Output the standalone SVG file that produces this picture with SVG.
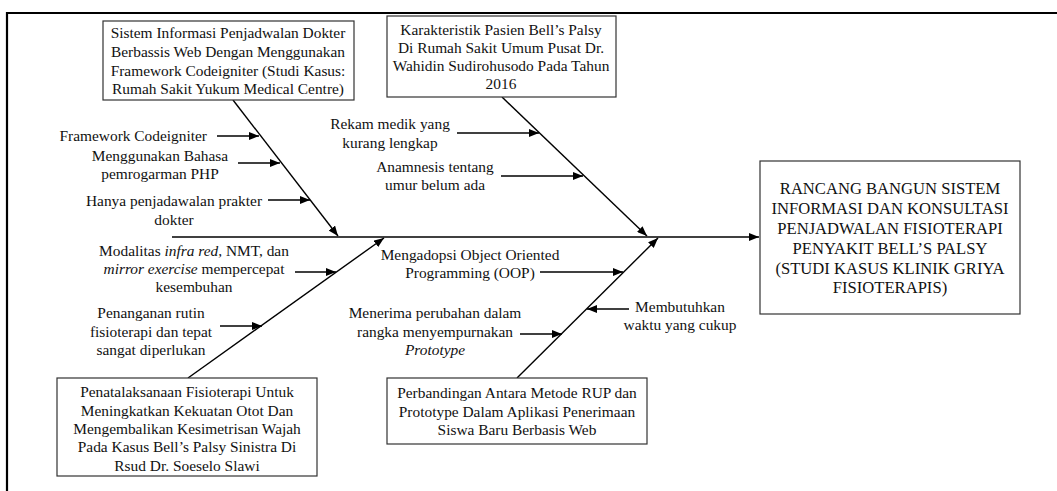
<svg xmlns="http://www.w3.org/2000/svg" width="1057" height="491" viewBox="0 0 1057 491">
  <style>
    text { font-family: "Liberation Serif", "Times New Roman", serif; font-size: 15.4px; fill: #111; }
    .c { text-anchor: middle; }
    .e { text-anchor: end; }
    .big { font-size: 16.6px; }
    .box { fill: #fff; stroke: #333; stroke-width: 1.2; }
    .bone { stroke: #000; stroke-width: 1.4; fill: none; }
    .frame { stroke: #000; stroke-width: 2.2; fill: none; }
    .it { font-style: italic; }
  </style>
  <defs>
    <marker id="ah" viewBox="0 0 10 8" markerWidth="10" markerHeight="8" refX="10" refY="4" orient="auto" markerUnits="userSpaceOnUse">
      <path d="M0,0 L10,4 L0,8 z" fill="#000"/>
    </marker>
  </defs>

  <rect width="1057" height="491" fill="#fff"/>
  <!-- page frame -->
  <path class="frame" d="M7,491 V13 H1057"/>

  <!-- connectors: spine, bones and cause arrows -->
  <g id="connectors">
    <line class="bone" x1="172" y1="237" x2="759" y2="237" marker-end="url(#ah)"/>
    <line class="bone" x1="233" y1="100" x2="338" y2="236" marker-end="url(#ah)"/>
    <line class="bone" x1="502" y1="97" x2="647" y2="236" marker-end="url(#ah)"/>
    <line class="bone" x1="188" y1="378" x2="384" y2="238" marker-end="url(#ah)"/>
    <line class="bone" x1="517" y1="378" x2="658" y2="238" marker-end="url(#ah)"/>

    <line class="bone" x1="217" y1="136" x2="259" y2="136" marker-end="url(#ah)"/>
    <line class="bone" x1="238" y1="163" x2="280" y2="163" marker-end="url(#ah)"/>
    <line class="bone" x1="268" y1="200" x2="310" y2="200" marker-end="url(#ah)"/>

    <line class="bone" x1="457" y1="133" x2="539" y2="133" marker-end="url(#ah)"/>
    <line class="bone" x1="501" y1="176" x2="583" y2="176" marker-end="url(#ah)"/>

    <line class="bone" x1="295" y1="272" x2="336" y2="272" marker-end="url(#ah)"/>
    <line class="bone" x1="220" y1="326" x2="262" y2="326" marker-end="url(#ah)"/>

    <line class="bone" x1="540" y1="272" x2="623" y2="272" marker-end="url(#ah)"/>
    <line class="bone" x1="520" y1="334" x2="562" y2="334" marker-end="url(#ah)"/>
    <line class="bone" x1="629" y1="309" x2="587" y2="309" marker-end="url(#ah)"/>
  </g>

  <!-- cause labels -->
  <g id="labels">
    <text class="e" x="207" y="141">Framework Codeigniter</text>
    <text class="c" x="160" y="161">Menggunakan Bahasa</text>
    <text class="c" x="160" y="179">pemrogarman PHP</text>
    <text class="c" x="174" y="206">Hanya penjadawalan prakter</text>
    <text class="c" x="174" y="225">dokter</text>

    <text class="c" x="390" y="129">Rekam medik yang</text>
    <text class="c" x="390" y="148">kurang lengkap</text>
    <text class="c" x="435" y="172">Anamnesis tentang</text>
    <text class="c" x="435" y="190">umur belum ada</text>

    <text class="c" x="194" y="256">Modalitas <tspan class="it">infra red,</tspan> NMT, dan</text>
    <text class="c" x="194" y="274"><tspan class="it">mirror exercise</tspan> mempercepat</text>
    <text class="c" x="194" y="292">kesembuhan</text>
    <text class="c" x="151" y="318">Penanganan rutin</text>
    <text class="c" x="151" y="337">fisioterapi dan tepat</text>
    <text class="c" x="151" y="355">sangat diperlukan</text>

    <text class="c" x="470" y="260">Mengadopsi Object Oriented</text>
    <text class="c" x="470" y="278">Programming (OOP)</text>
    <text class="c" x="435" y="318">Menerima perubahan dalam</text>
    <text class="c" x="435" y="337">rangka menyempurnakan</text>
    <text class="c it" x="435" y="355">Prototype</text>
    <text class="c" x="680" y="312">Membutuhkan</text>
    <text class="c" x="680" y="330">waktu yang cukup</text>
  </g>

  <!-- source boxes -->
  <g id="node-sistem-informasi">
    <rect class="box" x="103" y="21" width="251" height="79"/>
    <text class="c" x="228" y="38">Sistem Informasi Penjadwalan Dokter</text>
    <text class="c" x="228" y="57">Berbassis Web Dengan Menggunakan</text>
    <text class="c" x="228" y="76">Framework Codeigniter (Studi Kasus:</text>
    <text class="c" x="228" y="94">Rumah Sakit Yukum Medical Centre)</text>
  </g>

  <g id="node-karakteristik">
    <rect class="box" x="387" y="16" width="229" height="81"/>
    <text class="c" x="501" y="35">Karakteristik Pasien Bell’s Palsy</text>
    <text class="c" x="501" y="53">Di Rumah Sakit Umum Pusat Dr.</text>
    <text class="c" x="501" y="71">Wahidin Sudirohusodo Pada Tahun</text>
    <text class="c" x="501" y="89">2016</text>
  </g>

  <g id="node-penatalaksanaan">
    <rect class="box" x="57" y="378" width="260" height="98"/>
    <text class="c" x="187" y="397">Penatalaksanaan Fisioterapi Untuk</text>
    <text class="c" x="187" y="416">Meningkatkan Kekuatan Otot Dan</text>
    <text class="c" x="187" y="434">Mengembalikan Kesimetrisan Wajah</text>
    <text class="c" x="187" y="452">Pada Kasus Bell’s Palsy Sinistra Di</text>
    <text class="c" x="187" y="471">Rsud Dr. Soeselo Slawi</text>
  </g>

  <g id="node-perbandingan">
    <rect class="box" x="387" y="378" width="260" height="66"/>
    <text class="c" x="517" y="398">Perbandingan Antara Metode RUP dan</text>
    <text class="c" x="517" y="417">Prototype Dalam Aplikasi Penerimaan</text>
    <text class="c" x="517" y="435">Siswa Baru Berbasis Web</text>
  </g>

  <!-- effect box -->
  <g id="node-rancang-bangun">
    <rect class="box" x="760" y="161" width="260" height="153"/>
    <text class="c big" x="890" y="194">RANCANG BANGUN SISTEM</text>
    <text class="c big" x="890" y="214">INFORMASI DAN KONSULTASI</text>
    <text class="c big" x="890" y="234">PENJADWALAN FISIOTERAPI</text>
    <text class="c big" x="890" y="254">PENYAKIT BELL’S PALSY</text>
    <text class="c big" x="890" y="274">(STUDI KASUS KLINIK GRIYA</text>
    <text class="c big" x="890" y="293">FISIOTERAPIS)</text>
  </g>
</svg>
